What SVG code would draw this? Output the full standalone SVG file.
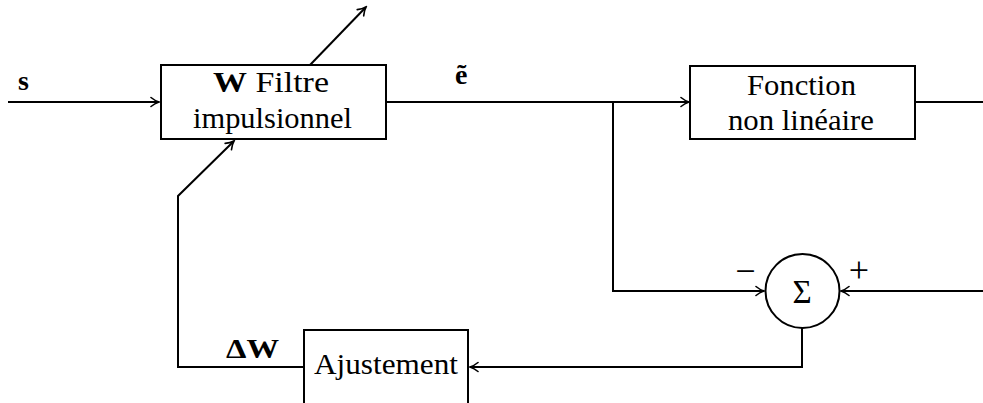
<svg xmlns="http://www.w3.org/2000/svg" width="983" height="403" viewBox="0 0 983 403">
<style>
.box{fill:#fff;stroke:#000;stroke-width:2}
.ln{fill:none;stroke:#000;stroke-width:2}
.t{font-family:"Liberation Serif","Times New Roman",serif;font-size:29px;fill:#000}
.b{font-weight:bold}
.sg{font-size:33px}
.pm{font-size:36px}
.lb{font-size:28px}
</style>
<defs>
<marker id="arr" viewBox="-10 -6 12 12" markerWidth="12" markerHeight="12" refX="0" refY="0" orient="auto" markerUnits="userSpaceOnUse">
<path d="M -8 -4.5 C -5 -2 -1.5 -0.5 0 0 C -1.5 0.5 -5 2 -8 4.5" fill="none" stroke="#000" stroke-width="1.6" stroke-linecap="round"/>
</marker>
</defs>
<g id="connectors">
<path class="ln" d="M 8 102 H 159" marker-end="url(#arr)"/>
<path class="ln" d="M 310 65 L 366 7" marker-end="url(#arr)"/>
<path class="ln" d="M 386 102 H 689" marker-end="url(#arr)"/>
<path class="ln" d="M 915 102 H 983"/>
<path class="ln" d="M 613 102 V 291 H 764" marker-end="url(#arr)"/>
<path class="ln" d="M 983 291 H 841" marker-end="url(#arr)"/>
<path class="ln" d="M 802 328 V 367 H 470" marker-end="url(#arr)"/>
<path class="ln" d="M 304 367 H 178 V 196 L 234 141" marker-end="url(#arr)"/>
</g>
<g id="label-s"><text class="t b lb" x="18" y="90">s</text></g>
<g id="label-e"><text class="t b lb" x="455" y="84">ẽ</text></g>
<g id="label-dw"><text class="t b lb" x="226" y="358" textLength="53" lengthAdjust="spacingAndGlyphs">ΔW</text></g>
<g id="filtre">
<rect class="box" x="161" y="65" width="225" height="74"/>
<text class="t" x="213" y="92" textLength="116" lengthAdjust="spacingAndGlyphs"><tspan class="b">W</tspan> Filtre</text>
<text class="t" x="193" y="128" textLength="159" lengthAdjust="spacingAndGlyphs">impulsionnel</text>
</g>
<g id="fonction">
<rect class="box" x="690" y="66" width="225" height="73"/>
<text class="t" x="747" y="94.5" textLength="109" lengthAdjust="spacingAndGlyphs">Fonction</text>
<text class="t" x="728" y="129.5" textLength="146" lengthAdjust="spacingAndGlyphs">non linéaire</text>
</g>
<g id="sigma">
<circle class="box" cx="802.5" cy="291" r="37"/>
<text class="t sg" x="802" y="302.5" text-anchor="middle">Σ</text>
<text class="t pm" x="745.5" y="282.5" text-anchor="middle">−</text>
<text class="t pm" x="859" y="282" text-anchor="middle">+</text>
</g>
<g id="ajustement">
<rect class="box" x="304" y="330" width="164" height="76"/>
<text class="t" x="314" y="374" textLength="144" lengthAdjust="spacingAndGlyphs">Ajustement</text>
</g>
</svg>
